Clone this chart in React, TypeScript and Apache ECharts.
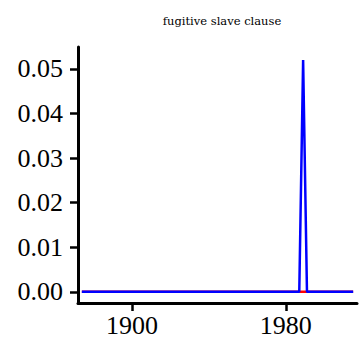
import React, { useEffect, useRef } from "react";
import * as echarts from "echarts";

const titleText = "fugitive slave clause";
const blueSeries: [number, number][] = [
  [1874, 0],
  [1987, 0],
  [1989, 0.052],
  [1991, 0],
  [2015, 0],
];
const redSeries: [number, number][] = [
  [1874, 0],
  [2015, 0],
];
const yTicks = [0, 0.01, 0.02, 0.03, 0.04, 0.05];
const xTicks = [1900, 1980];

export default function App() {
  const ref = useRef<HTMLDivElement>(null);
  useEffect(() => {
    if (!ref.current) return;
    const chart = echarts.init(ref.current, null, { renderer: "svg" });
    const labelFont = {
      fontFamily: "Liberation Serif",
      fontSize: 26,
      color: "#000",
    };
    chart.setOption({
      animation: false,
      title: {
        text: titleText,
        left: 217,
        textAlign: "center",
        top: 10,
        textStyle: {
          fontFamily: "DejaVu Serif",
          fontSize: 11.5,
          fontWeight: "normal",
          color: "#000",
        },
      },
      grid: { left: 78, right: 4, top: 47, bottom: 40, containLabel: false },
      xAxis: {
        type: "value",
        min: 1872,
        max: 2017,
        splitLine: { show: false },
        axisLine: { show: true, onZero: false, lineStyle: { color: "#000", width: 3 } },
        axisTick: {
          show: true,
          customValues: xTicks,
          length: 8,
          lineStyle: { color: "#000", width: 2.5 },
        },
        axisLabel: {
          customValues: xTicks,
          margin: 9,
          ...labelFont,
          formatter: (v: number) => String(v),
        },
      },
      yAxis: {
        type: "value",
        min: -0.0025,
        max: 0.0549,
        splitLine: { show: false },
        axisLine: { show: true, onZero: false, lineStyle: { color: "#000", width: 3 } },
        axisTick: {
          show: true,
          customValues: yTicks,
          length: 8,
          lineStyle: { color: "#000", width: 2.5 },
        },
        axisLabel: {
          customValues: yTicks,
          margin: 15,
          ...labelFont,
          formatter: (v: number) => v.toFixed(2),
        },
      },
      series: [
        {
          type: "line",
          data: redSeries,
          symbol: "none",
          lineStyle: { color: "#ff0000", width: 2.5 },
          z: 2,
        },
        {
          type: "line",
          data: blueSeries,
          symbol: "none",
          lineStyle: { color: "#0000ff", width: 2.5 },
          z: 3,
        },
      ],
    });
    return () => chart.dispose();
  }, []);
  return (
    <div
      ref={ref}
      style={{ position: "fixed", left: 0, top: 0, width: 361, height: 343, background: "#fff" }}
    />
  );
}
